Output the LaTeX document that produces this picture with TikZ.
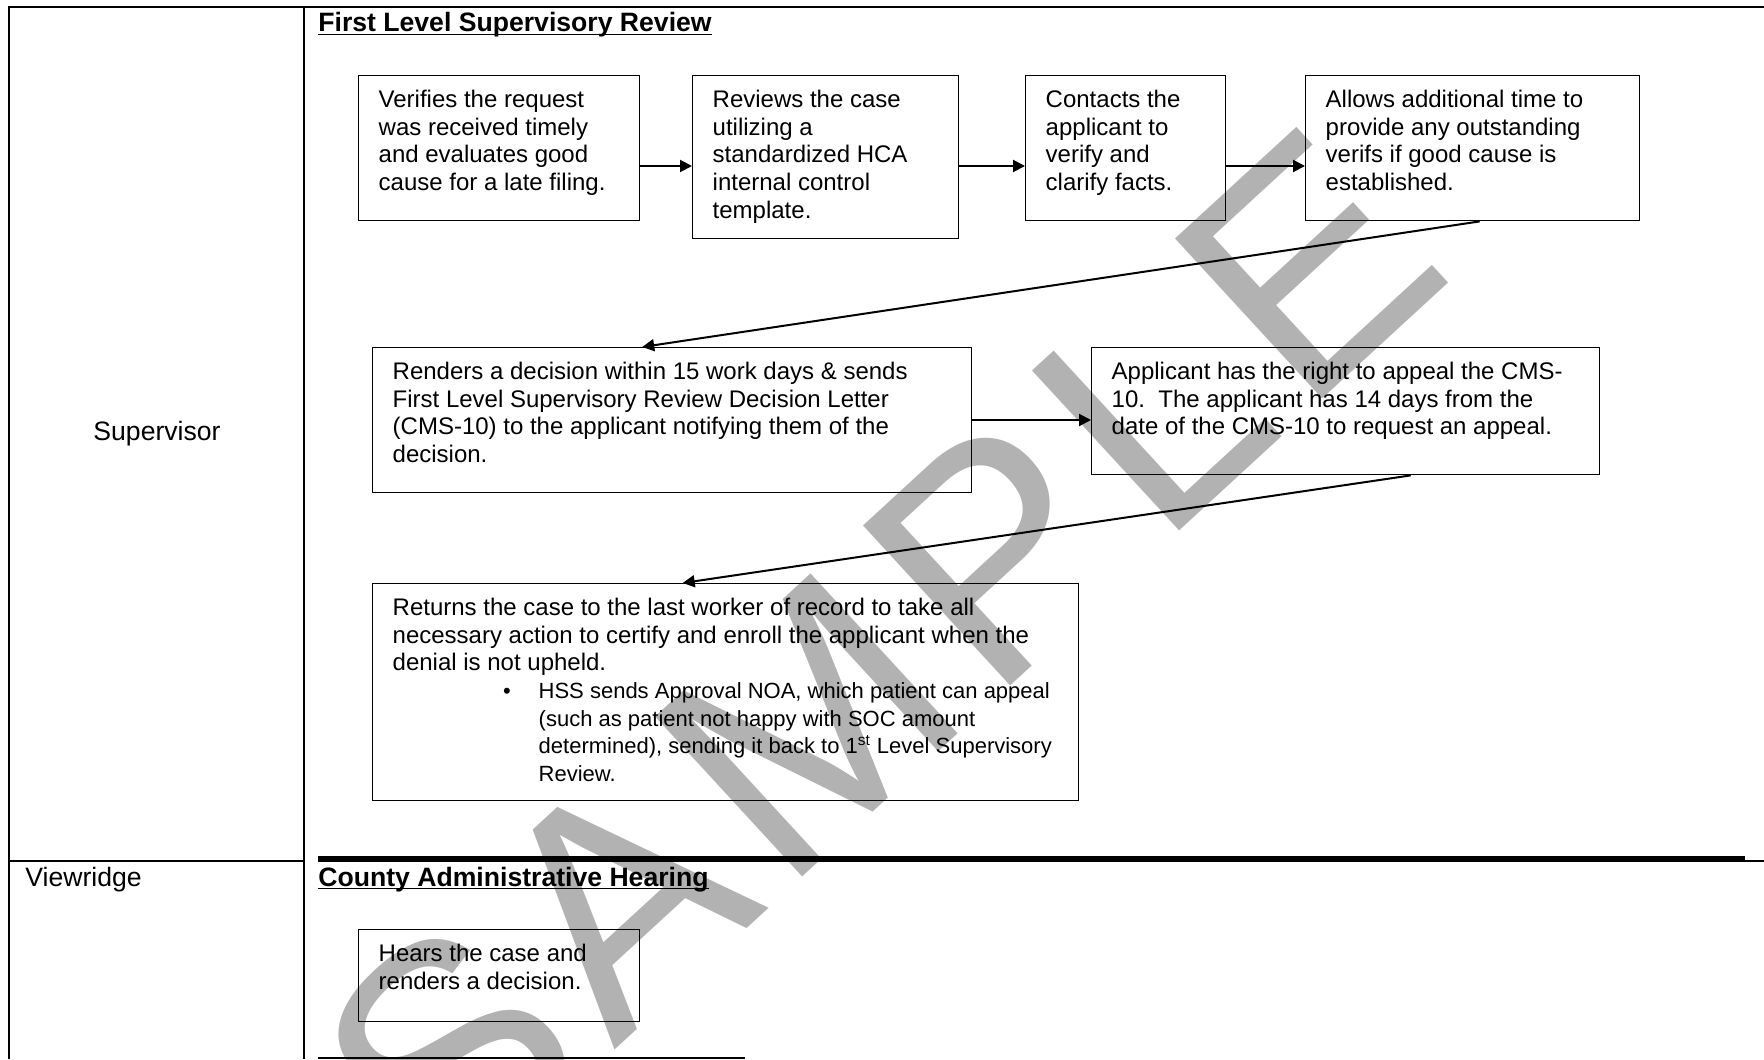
\documentclass[tikz,border=0pt]{standalone}
\usepackage{fontspec}
\setmainfont{Liberation Sans}
\usetikzlibrary{arrows.meta,positioning,calc}
\definecolor{wmgray}{RGB}{178,178,178}
\newcommand{\boxfont}{\fontsize{12}{13.8}\selectfont}
\newcommand{\headfont}{\fontsize{13.3}{15.3}\selectfont}
\newcommand{\steptext}[3]{\parbox[t][#2][t]{#1}{\raggedright\strut #3}}

\begin{document}
\begin{tikzpicture}[
  x=0.5pt,y=-0.5pt,
  tableline/.style={line width=1pt},
  stepbox/.style={draw,line width=0.7pt,anchor=north west,inner xsep=10pt,inner ysep=6.3pt,font=\boxfont},
  headtext/.style={anchor=base west,inner sep=0pt,font=\headfont\bfseries},
  lane/.style={inner sep=0pt,font=\headfont},
  arr/.style={-{Triangle[length=6pt,width=6pt]},line width=1pt},
  wmark/.style={anchor=base west,inner sep=0pt,text=wmgray,font=\fontsize{158}{158}\selectfont\addfontfeature{LetterSpace=6}}
]
\useasboundingbox (0,0) rectangle (1764,1059);

% watermark
\begin{scope}
\clip (0,0) rectangle (1764,1059);
\node[wmark,rotate=42.6] (wm) at (445,1206) {SAMPLE};
\end{scope}

% table
\draw[tableline] (8.5,1059) -- (8.5,7.5) -- (1764,7.5);
\draw[tableline] (304,7.5) -- (304,1059);
\draw[tableline] (8.5,861) -- (304,861);
\draw[line width=2.6pt] (318,859) -- (1745,859);
\draw[tableline] (1745,861) -- (1764,861);
\draw[tableline] (318,1057.5) -- (745,1057.5);

\node[lane] (sup) at (157,434) {Supervisor};
\node[lane,anchor=base west] (view) at (25,886) {Viewridge};

\node[headtext] (head1) at (318,32) {First Level Supervisory Review};
\draw[line width=0.8pt] ([yshift=-1.2pt]head1.base west) -- ([yshift=-1.2pt]head1.base east);
\node[headtext] (head2) at (318,886) {County Administrative Hearing};
\draw[line width=0.8pt] ([yshift=-1.2pt]head2.base west) -- ([yshift=-1.2pt]head2.base east);

% first level review steps
\node[stepbox] (b1) at (358,75) {\steptext{120.5pt}{59.9pt}{Verifies the request\\was received timely\\and evaluates good\\cause for a late filing.}};
\node[stepbox] (b2) at (692,75) {\steptext{113pt}{68.9pt}{Reviews the case\\utilizing a\\standardized HCA\\internal control\\template.}};
\node[stepbox] (b3) at (1025,75) {\steptext{80pt}{59.9pt}{Contacts the\\applicant to\\verify and\\clarify facts.}};
\node[stepbox] (b4) at (1305,75) {\steptext{147pt}{59.9pt}{Allows additional time to\\provide any outstanding\\verifs if good cause is\\established.}};
\node[stepbox] (b5) at (372,347) {\steptext{279.5pt}{59.9pt}{Renders a decision within 15 work days \& sends\\First Level Supervisory Review Decision Letter\\(CMS-10) to the applicant notifying them of the\\decision.}};
\node[stepbox] (b6) at (1091,347) {\steptext{234pt}{50.9pt}{Applicant has the right to appeal the CMS-\\10.\ \ The applicant has 14 days from the\\date of the CMS-10 to request an appeal.}};
\node[stepbox] (b7) at (372,583) {\steptext{333pt}{95.9pt}{Returns the case to the last worker of record to take all\\necessary action to certify and enroll the applicant when the\\denial is not upheld.\par
\leftskip=73pt\fontsize{11}{13.8}\selectfont\leavevmode\llap{\textbullet\hspace{14pt}}HSS sends Approval NOA, which patient can appeal\\(such as patient not happy with SOC amount\\determined), sending it back to 1\textsuperscript{st} Level Supervisory\\Review.}};

% hearing
\node[stepbox] (b8) at (358,929) {\steptext{120.5pt}{33.4pt}{Hears the case and\\renders a decision.}};

\coordinate (row1) at (0,166);
\coordinate (row2) at (0,420);
\draw[arr] (b1.east |- row1) -- (b2.west |- row1);
\draw[arr] (b2.east |- row1) -- (b3.west |- row1);
\draw[arr] (b3.east |- row1) -- (b4.west |- row1);
\draw[arr] ([xshift=3.5pt]b4.south) -- ([xshift=-15pt]b5.north);
\draw[arr] (b5.east |- row2) -- (b6.west |- row2);
\draw[arr] ([xshift=32.5pt]b6.south) -- ([xshift=-21.5pt]b7.north);
\end{tikzpicture}
\end{document}
